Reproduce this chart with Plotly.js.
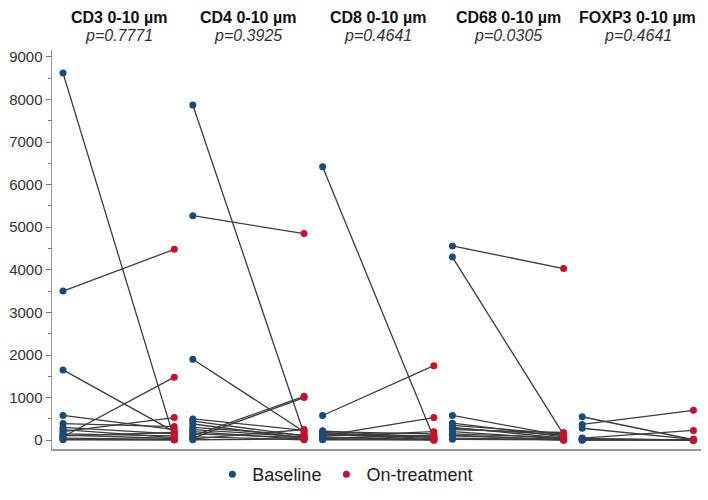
<!DOCTYPE html>
<html>
<head>
<meta charset="utf-8">
<script src="https://cdn.plot.ly/plotly-3.0.1.min.js"></script>
<style>html,body{margin:0;padding:0;background:#fff;}#chart{width:708px;height:500px;}</style>
</head>
<body>
<div id="chart"></div>
<script>
// Panels (markers) and p-values
const panels = ["CD3 0-10 µm", "CD4 0-10 µm", "CD8 0-10 µm", "CD68 0-10 µm", "FOXP3 0-10 µm"];
const pValues = ["p=0.7771", "p=0.3925", "p=0.4641", "p=0.0305", "p=0.4641"];
const timepoints = ["Baseline", "On-treatment"];

// Paired values per patient (baseline, on-treatment)
const cd3Baseline  = [8620, 3500, 1650, 580, 390, 80, 200, 150, 250, 100, 50, 20, 120, 10, 300];
const cd3OnTreat   = [30, 4480, 200, 250, 320, 1480, 530, 100, 60, 180, 20, 10, 40, 5, 150];
const cd4Baseline  = [7870, 5270, 1900, 100, 50, 500, 450, 380, 300, 200, 150, 80, 30, 10, 250];
const cd4OnTreat   = [150, 4850, 200, 1030, 1000, 230, 100, 50, 120, 20, 60, 10, 250, 30, 80];
const cd8Baseline  = [6420, 580, 100, 200, 150, 180, 120, 60, 30, 90, 10, 220, 40, 160];
const cd8OnTreat   = [50, 1750, 530, 150, 100, 30, 80, 20, 10, 200, 5, 60, 120, 0];
const cd68Baseline = [4560, 4300, 580, 400, 350, 300, 250, 200, 150, 100, 50, 20, 280, 120];
const cd68OnTreat  = [4030, 130, 100, 80, 150, 50, 180, 30, 60, 20, 10, 5, 120, 0];
const foxp3Baseline = [550, 370, 280, 50, 30, 10, 20, 0, 5, 40];
const foxp3OnTreat  = [10, 700, 20, 230, 0, 5, 10, 0, 15, 0];

const yTickVals = [0, 1000, 2000, 3000, 4000, 5000, 6000, 7000, 8000, 9000];

const baselineSeries = [cd3Baseline, cd4Baseline, cd8Baseline, cd68Baseline, foxp3Baseline];
const onTreatSeries  = [cd3OnTreat, cd4OnTreat, cd8OnTreat, cd68OnTreat, foxp3OnTreat];

const navy = "#1b4a78";
const red = "#c8102e";
const lineCol = "#3d3d3d";
const font = "Liberation Sans, Arial, sans-serif";

const traces = [];
const annotations = [];
const layout = {
  width: 708, height: 500,
  margin: {l: 52, r: 7, t: 50, b: 43},
  paper_bgcolor: "#fff", plot_bgcolor: "#fff",
  font: {family: font, size: 15, color: "#333"},
  showlegend: true,
  legend: {orientation: "h", x: 0.452, xanchor: "center", y: -0.064, yanchor: "middle",
           font: {family: font, size: 18, color: "#222"}, itemwidth: 30, traceorder: "normal"},
  yaxis: {
    range: [-207, 9161], tickvals: yTickVals, ticks: "outside", ticklen: 5, tickcolor: "#777",
    showline: true, linecolor: "#999", linewidth: 1.5, showgrid: false, zeroline: false,
    tickfont: {family: font, size: 15, color: "#333"},
    minor: {dtick: 500, tick0: 0, ticks: "outside", ticklen: 3, tickcolor: "#777", showgrid: false}
  },
  annotations: annotations
};

for (let k = 0; k < panels.length; k++) {
  const xa = k === 0 ? "x" : "x" + (k + 1);
  const axName = k === 0 ? "xaxis" : "xaxis" + (k + 1);
  layout[axName] = {
    domain: [k * 0.2, (k + 1) * 0.2], range: [-0.099, 1.068], anchor: "y",
    showticklabels: false, ticks: "", showgrid: false, zeroline: false,
    showline: true, linecolor: "#999", linewidth: 1.5
  };
  const b = baselineSeries[k], o = onTreatSeries[k];
  const lx = [], ly = [];
  for (let i = 0; i < b.length; i++) {
    lx.push(0, 1, null);
    ly.push(b[i], o[i], null);
  }
  traces.push({x: lx, y: ly, xaxis: xa, yaxis: "y", mode: "lines", type: "scatter",
               line: {color: lineCol, width: 1.3}, showlegend: false, hoverinfo: "skip"});
  traces.push({x: b.map(() => 0), y: b, xaxis: xa, yaxis: "y", mode: "markers", type: "scatter",
               name: timepoints[0], legendgroup: "b", showlegend: k === 0,
               marker: {color: navy, size: 7}});
  traces.push({x: o.map(() => 1), y: o, xaxis: xa, yaxis: "y", mode: "markers", type: "scatter",
               name: timepoints[1], legendgroup: "o", showlegend: k === 0,
               marker: {color: red, size: 7}});
  annotations.push({xref: xa, yref: "paper", x: 0.5, y: 1.081, yanchor: "middle", xanchor: "center",
                    showarrow: false, text: "<b>" + panels[k] + "</b>",
                    font: {family: font, size: 16, color: "#111"}});
  annotations.push({xref: xa, yref: "paper", x: 0.5, y: 1.037, yanchor: "middle", xanchor: "center",
                    showarrow: false, text: "<i>" + pValues[k] + "</i>",
                    font: {family: font, size: 16, color: "#333"}});
}

Plotly.newPlot("chart", traces, layout, {staticPlot: true, displayModeBar: false});
</script>
</body>
</html>
